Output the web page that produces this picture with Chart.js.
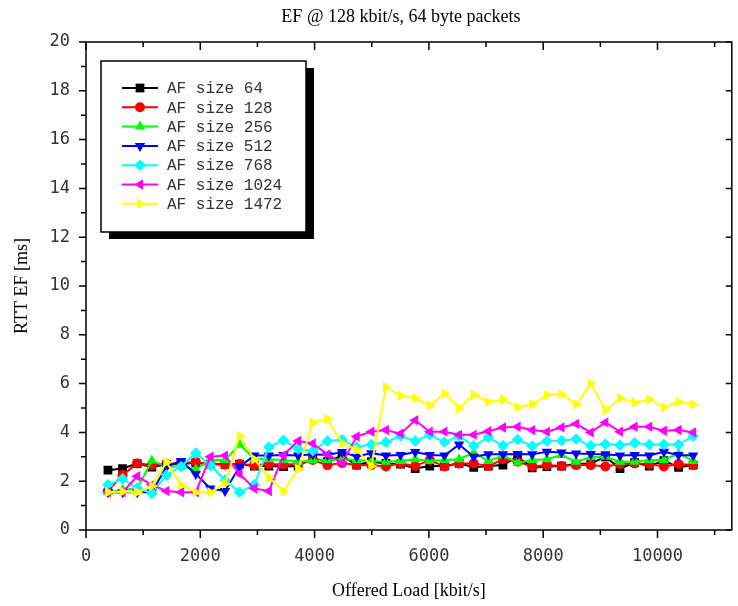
<!DOCTYPE html>
<html><head><meta charset="utf-8">
<script src="https://cdn.jsdelivr.net/npm/chart.js@4/dist/chart.umd.min.js"></script>
<style>html,body{margin:0;padding:0;background:#fff}canvas{display:block}</style>
</head><body>
<canvas id="c" width="738" height="606"></canvas>
<script>
const chartTitle = 'EF @ 128 kbit/s, 64 byte packets';
const xAxisTitle = 'Offered Load [kbit/s]';
const yAxisTitle = 'RTT EF [ms]';
const xTickLabels = [0, 2000, 4000, 6000, 8000, 10000];
const yTickLabels = [0, 2, 4, 6, 8, 10, 12, 14, 16, 18, 20];
const xTickMarks = [0,1000,2000,3000,4000,5000,6000,7000,8000,9000,10000,11000];
const yTickMarks = [0,1,2,3,4,5,6,7,8,9,10,11,12,13,14,15,16,17,18,19,20];

const offeredLoad = [384,640,896,1152,1408,1664,1920,2176,2432,2688,2944,3200,3456,3712,3968,4224,4480,4736,4992,5248,5504,5760,6016,6272,6528,6784,7040,7296,7552,7808,8064,8320,8576,8832,9088,9344,9600,9856,10112,10368,10624];

const af64   = [2.45,2.52,2.72,2.58,2.68,2.72,2.75,2.70,2.68,2.70,2.62,2.62,2.60,2.62,2.94,2.80,3.05,2.66,2.80,2.73,2.70,2.52,2.62,2.62,2.73,2.57,2.62,2.66,3.00,2.55,2.60,2.62,2.70,2.73,3.00,2.52,2.76,2.62,2.84,2.57,2.66];
const af128  = [1.60,2.25,2.73,2.66,2.70,2.75,2.79,2.70,2.68,2.70,2.65,2.70,2.68,2.70,2.87,2.66,2.75,2.66,2.66,2.60,2.73,2.62,2.87,2.60,2.73,2.73,2.62,2.90,2.80,2.60,2.66,2.62,2.66,2.66,2.60,2.70,2.73,2.70,2.60,2.70,2.66];
const af256  = [1.55,1.65,1.70,2.85,2.60,2.60,2.48,2.87,2.87,3.50,2.93,2.90,2.87,2.80,2.85,2.87,2.90,2.87,2.83,2.80,2.83,2.90,2.83,2.87,2.90,3.17,2.83,3.05,2.76,2.87,2.90,3.07,2.80,2.98,3.00,2.80,2.80,2.87,2.87,3.14,2.83];
const af512  = [1.55,1.55,1.55,1.55,2.60,2.83,2.30,1.70,1.60,2.60,3.05,3.05,3.07,3.05,3.10,3.07,3.20,3.00,3.15,3.05,3.07,3.20,3.07,3.05,3.50,3.00,3.10,3.10,3.11,3.10,3.21,3.18,3.14,3.11,3.10,3.05,3.07,3.05,3.21,3.07,3.05];
const af768  = [1.85,2.10,1.72,1.50,2.25,2.60,3.15,2.65,2.05,1.55,1.85,3.40,3.68,3.32,3.25,3.65,3.70,3.40,3.50,3.60,3.85,3.65,3.90,3.60,3.85,3.45,3.80,3.46,3.71,3.44,3.65,3.66,3.73,3.46,3.52,3.48,3.57,3.50,3.50,3.50,3.85];
const af1024 = [1.55,1.55,2.20,1.85,1.60,1.55,1.55,3.00,3.05,2.30,1.70,1.60,3.07,3.65,3.55,3.10,2.75,3.83,4.03,4.10,3.95,4.50,4.03,4.03,3.90,3.90,4.05,4.20,4.23,4.10,4.03,4.20,4.35,4.00,4.41,4.03,4.23,4.23,4.07,4.10,4.00];
const af1472 = [1.55,1.58,1.55,1.80,2.78,1.85,1.55,1.55,1.90,3.85,2.90,2.15,1.58,2.50,4.40,4.55,3.55,3.30,2.62,5.85,5.50,5.40,5.10,5.60,5.00,5.55,5.25,5.35,5.03,5.15,5.53,5.57,5.15,6.00,4.92,5.40,5.23,5.35,5.03,5.25,5.15];

const seriesLabels = ['AF size 64','AF size 128','AF size 256','AF size 512','AF size 768','AF size 1024','AF size 1472'];
const seriesValues = [af64, af128, af256, af512, af768, af1024, af1472];
const seriesStyles = [
  {color:'#000000', point:'rect',     rot:0,   r:6.2},
  {color:'#ff0000', point:'circle',   rot:0,   r:5},
  {color:'#00ff00', point:'triangle', rot:0,   r:6},
  {color:'#0000ff', point:'triangle', rot:180, r:6},
  {color:'#00ffff', point:'rectRot',  rot:0,   r:5.8},
  {color:'#ff00ff', point:'triangle', rot:-90, r:6},
  {color:'#ffff00', point:'triangle', rot:90,  r:6}
];

const datasets = seriesValues.map((vals, i) => ({
  label: seriesLabels[i],
  data: offeredLoad.map((xv, j) => ({x: xv, y: vals[j]})),
  borderColor: seriesStyles[i].color,
  backgroundColor: seriesStyles[i].color,
  pointBackgroundColor: seriesStyles[i].color,
  pointBorderColor: seriesStyles[i].color,
  pointBorderWidth: 0,
  pointStyle: seriesStyles[i].point,
  pointRotation: seriesStyles[i].rot,
  pointRadius: seriesStyles[i].r,
  borderWidth: 2,
  tension: 0,
  order: seriesValues.length - 1 - i
}));

const decor = {
  id: 'decor',
  afterDraw(chart) {
    const {ctx, chartArea: a, scales: {x, y}} = chart;
    ctx.save();
    ctx.strokeStyle = '#000';
    ctx.lineWidth = 1.5;
    ctx.strokeRect(a.left, a.top, a.right - a.left, a.bottom - a.top);
    ctx.beginPath();
    xTickMarks.forEach(v => {
      const px = x.getPixelForValue(v);
      const L = v % 2000 === 0 ? 8 : 5;
      ctx.moveTo(px, a.bottom); ctx.lineTo(px, a.bottom + L);
      ctx.moveTo(px, a.top); ctx.lineTo(px, a.top + L);
    });
    yTickMarks.forEach(v => {
      const py = y.getPixelForValue(v);
      const L = v % 2 === 0 ? 7 : 5;
      ctx.moveTo(a.left, py); ctx.lineTo(a.left - L, py);
      if (v % 2 === 0) { ctx.moveTo(a.right, py); ctx.lineTo(a.right - 6, py); }
    });
    ctx.stroke();

    // title
    ctx.fillStyle = '#000';
    ctx.font = '18px "Liberation Serif"';
    ctx.textAlign = 'center';
    ctx.textBaseline = 'middle';
    ctx.fillText(chartTitle, (a.left + a.right) / 2 - 8, 17);

    // legend
    const bx = a.left + 15, by = a.top + 19, bw = 205, bh = 171;
    ctx.fillStyle = '#000';
    ctx.fillRect(bx + 8, by + 7, bw, bh);
    ctx.fillStyle = '#fff';
    ctx.fillRect(bx, by, bw, bh);
    ctx.lineWidth = 1.5;
    ctx.strokeRect(bx, by, bw, bh);
    ctx.font = '16px "Liberation Mono"';
    ctx.textAlign = 'left';
    ctx.textBaseline = 'middle';
    chart.data.datasets.forEach((ds, i) => {
      const ry = by + 27 + i * 19.3;
      ctx.strokeStyle = ds.borderColor;
      ctx.lineWidth = 2;
      ctx.beginPath();
      ctx.moveTo(bx + 21, ry); ctx.lineTo(bx + 57, ry);
      ctx.stroke();
      ctx.fillStyle = ds.pointBackgroundColor;
      Chart.helpers.drawPoint(ctx, {pointStyle: ds.pointStyle, rotation: ds.pointRotation, radius: ds.pointRadius, borderWidth: 0}, bx + 39, ry);
      ctx.fillStyle = '#333';
      ctx.fillText(ds.label, bx + 66, ry + 1);
    });
    ctx.restore();
  }
};

new Chart(document.getElementById('c'), {
  type: 'line',
  data: {datasets},
  plugins: [decor],
  options: {
    responsive: false,
    animation: false,
    devicePixelRatio: 1,
    layout: {padding: {top: 42, right: 4, left: 0, bottom: 0}},
    plugins: {legend: {display: false}, title: {display: false}, tooltip: {enabled: false}},
    scales: {
      x: {
        type: 'linear', min: 0, max: 11300,
        afterFit(s) { s.height = 76; },
        afterBuildTicks(s) { s.ticks = xTickLabels.map(v => ({value: v})); },
        grid: {display: false, drawTicks: false},
        border: {display: false},
        ticks: {autoSkip: false, maxRotation: 0, minRotation: 0, padding: 16, color: '#333',
          font: {family: 'DejaVu Sans Mono', size: 17},
          callback: v => String(v)},
        title: {display: true, text: xAxisTitle, color: '#000', font: {family: 'Liberation Serif', size: 18}, padding: {top: 0, bottom: 4}}
      },
      y: {
        type: 'linear', min: 0, max: 20,
        afterFit(s) { s.width = 86; },
        afterBuildTicks(s) { s.ticks = yTickLabels.map(v => ({value: v})); },
        grid: {display: false, drawTicks: false},
        border: {display: false},
        ticks: {autoSkip: false, padding: 16, color: '#333',
          font: {family: 'DejaVu Sans Mono', size: 17},
          callback: v => String(v)},
        title: {display: true, text: yAxisTitle, color: '#000', font: {family: 'Liberation Serif', size: 18}, padding: {top: 11, bottom: 0}}
      }
    }
  }
});
</script>
</body></html>
